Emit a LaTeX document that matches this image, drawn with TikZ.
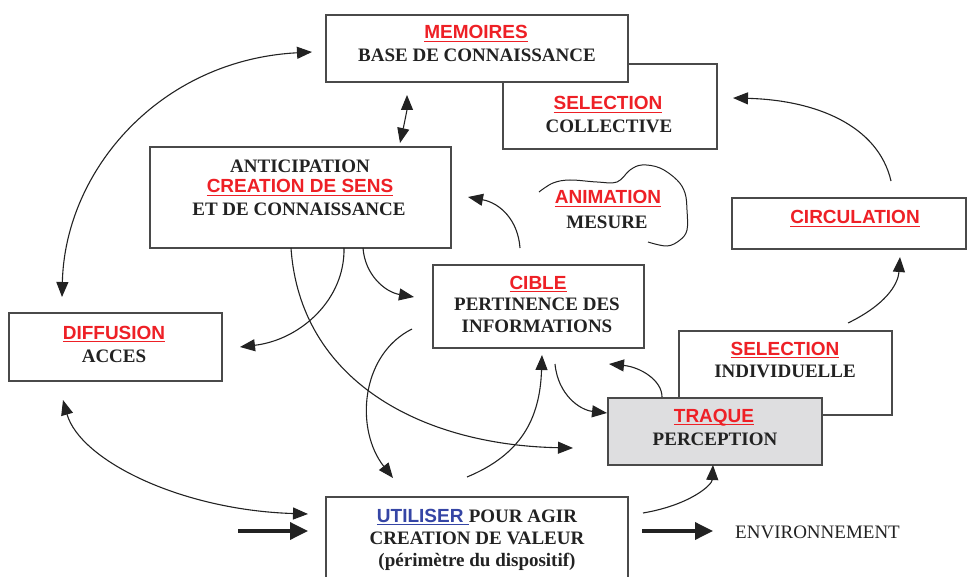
\documentclass[tikz,border=0pt]{standalone}
\usepackage{fontspec}
\setmainfont{Liberation Serif}
\setsansfont{Liberation Sans}
\usetikzlibrary{arrows.meta}
\definecolor{redt}{HTML}{EE2026}
\definecolor{bluet}{HTML}{3545A5}
\definecolor{ink}{HTML}{222222}
\definecolor{boxline}{HTML}{4A4A4A}
\definecolor{traquefill}{HTML}{DEDEE0}
\newcommand\myul[1]{\setbox0\hbox{#1}\rlap{\raisebox{-3.2pt}{\rule{\wd0}{1.3pt}}}\box0}
\begin{document}
\begin{tikzpicture}[x=1pt,y=-1pt,
  box/.style={draw=boxline,line width=1.2pt,fill=white,inner sep=0pt,outer sep=0pt},
  rt/.style={anchor=base,inner sep=0pt,text=redt,font=\fontsize{19}{22}\selectfont\sffamily\bfseries},
  bt/.style={anchor=base,inner sep=0pt,text=ink,font=\fontsize{19}{22}\selectfont\bfseries},
  nt/.style={anchor=base west,inner sep=0pt,text=ink,font=\fontsize{19}{22}\selectfont},
  tipa/.tip={Triangle[length=15pt,width=12pt]},
  conn/.style={draw=ink,line width=1.1pt,-tipa},
  conntwo/.style={draw=ink,line width=1.1pt,tipa-tipa},
  fatarrow/.style={draw=ink,line width=3.5pt,-{Triangle[length=18pt,width=17pt]}}
]
\useasboundingbox (0,0) rectangle (968,577);
\clip (0,0) rectangle (968,577);

% boxes
\node[box,minimum width=214pt,minimum height=85pt] (selc) at (610,106.5) {};
\node[box,minimum width=302pt,minimum height=67pt] (mem) at (477,48.5) {};
\node[box,minimum width=301pt,minimum height=101pt] (ant) at (300.5,197.5) {};
\node[box,minimum width=234pt,minimum height=51pt] (circ) at (849,223.5) {};
\node[box,minimum width=211pt,minimum height=83pt] (cible) at (538.5,306.5) {};
\node[box,minimum width=213pt,minimum height=68pt] (diff) at (115.5,347) {};
\node[box,minimum width=213pt,minimum height=84pt] (seli) at (785.5,373) {};
\node[box,fill=traquefill,minimum width=214pt,minimum height=67pt] (traq) at (715,431.5) {};
\node[box,minimum width=302pt,minimum height=93pt] (util) at (477,543.5) {};

% texts
\node[rt] (tmem1) at (476,39) {\myul{MEMOIRES}};
\node[bt] (tmem2) at (477,62) {BASE DE CONNAISSANCE};
\node[rt] (tselc1) at (608,110) {\myul{SELECTION}};
\node[bt] (tselc2) at (609,133) {COLLECTIVE};
\node[bt] (tant1) at (300,173) {ANTICIPATION};
\node[rt] (tant2) at (300,193) {\myul{CREATION DE SENS}};
\node[bt] (tant3) at (299,216) {ET DE CONNAISSANCE};
\node[rt] (tani1) at (608,204) {\myul{ANIMATION}};
\node[bt] (tani2) at (607,229) {MESURE};
\node[rt] (tcirc) at (855,224) {\myul{CIRCULATION}};
\node[rt] (tcib1) at (538,289) {\myul{CIBLE}};
\node[bt] (tcib2) at (537,310) {PERTINENCE DES};
\node[bt] (tcib3) at (537,332) {INFORMATIONS};
\node[rt] (tdif1) at (114,339) {\myul{DIFFUSION}};
\node[bt] (tdif2) at (114,362) {ACCES};
\node[rt] (tsel1) at (785,355) {\myul{SELECTION}};
\node[bt] (tsel2) at (785,377) {INDIVIDUELLE};
\node[rt] (ttra1) at (714,422) {\myul{TRAQUE}};
\node[bt] (ttra2) at (715,445) {PERCEPTION};
\node[bt] (tuti1) at (477,522) {{\color{bluet}\fontsize{19}{22}\selectfont\sffamily\bfseries\myul{UTILISER\ }}POUR AGIR};
\node[bt] (tuti2) at (477,544) {CREATION DE VALEUR};
\node[bt] (tuti3) at (477,566) {(périmètre du dispositif)};
\node[nt] (tenv) at (735,538) {ENVIRONNEMENT};

% animation outline
\draw[ink,line width=1pt] plot[smooth,tension=0.6] coordinates {
 (539,192) (553,183) (570,180) (597,182) (617,182) (630,170) (642,165)
 (660,168) (677,180) (685,193) (687,210) (687,230) (680,240) (667,246) (648,242)};

% connector end points
\coordinate (a1s) at (62,297);  \coordinate (a1e) at (312,52);
\coordinate (a2s) at (400,143); \coordinate (a2e) at (407,95);
\coordinate (a3s) at (891,181); \coordinate (a3e) at (733,98);
\coordinate (a4s) at (848,323); \coordinate (a4e) at (900,257);
\coordinate (a5s) at (520,248); \coordinate (a5e) at (468,197);
\coordinate (a6s) at (291,248); \coordinate (a6e) at (573,448);
\coordinate (a7s) at (344,248); \coordinate (a7e) at (240,347);
\coordinate (a8s) at (363,248); \coordinate (a8e) at (414,297);
\coordinate (a9s) at (412,329); \coordinate (a9e) at (393,478);
\coordinate (a10s) at (467,477); \coordinate (a10e) at (542,355);
\coordinate (a11s) at (555,364); \coordinate (a11e) at (607,413);
\coordinate (a12s) at (662,397); \coordinate (a12e) at (609,364);
\coordinate (a13s) at (643,513); \coordinate (a13e) at (713,465);
\coordinate (a14s) at (63,400);  \coordinate (a14e) at (308,514);
\coordinate (a15s) at (238,531); \coordinate (a15e) at (308,531);
\coordinate (a16s) at (642,531); \coordinate (a16e) at (713,531);

% connectors
\draw[conntwo] (a1s) .. controls (65,170) and (160,60) .. (a1e);
\draw[conntwo] (a2s) .. controls (404,125) and (407,110) .. (a2e);
\draw[conn] (a3s) .. controls (878,125) and (815,100) .. (a3e);
\draw[conn] (a4s) .. controls (885,305) and (898,285) .. (a4e);
\draw[conn] (a5s) .. controls (518,220) and (500,203) .. (a5e);
\draw[conn] (a6s) .. controls (300,380) and (420,445) .. (a6e);
\draw[conn] (a7s) .. controls (345,300) and (300,340) .. (a7e);
\draw[conn] (a8s) .. controls (365,275) and (385,292) .. (a8e);
\draw[conn] (a9s) .. controls (360,355) and (355,430) .. (a9e);
\draw[conn] (a10s) .. controls (520,455) and (540,420) .. (a10e);
\draw[conn] (a11s) .. controls (558,395) and (580,410) .. (a11e);
\draw[conn] (a12s) .. controls (662,380) and (640,367) .. (a12e);
\draw[conn] (a13s) .. controls (690,505) and (712,485) .. (a13e);
\draw[conntwo] (a14s) .. controls (80,460) and (180,510) .. (a14e);
\draw[fatarrow] (a15s) -- (a15e);
\draw[fatarrow] (a16s) -- (a16e);
\end{tikzpicture}
\end{document}
